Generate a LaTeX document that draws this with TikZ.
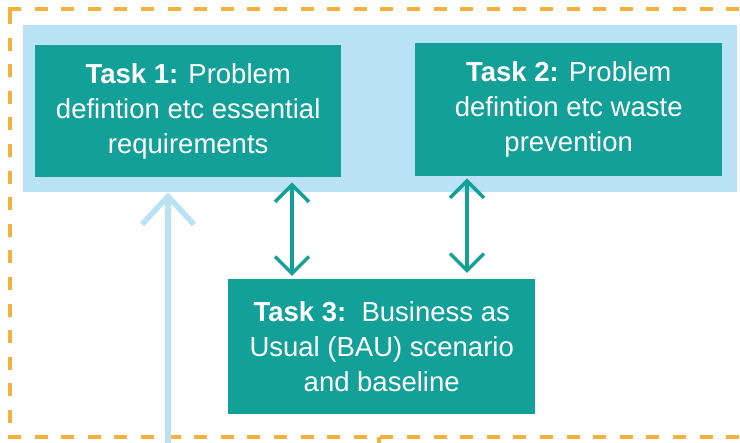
\documentclass[tikz,border=0pt]{standalone}
\usepackage{fontspec}
\setmainfont{Liberation Sans}
\usetikzlibrary{arrows.meta}
\definecolor{tealbox}{HTML}{12A099}
\definecolor{lightband}{HTML}{BAE2F5}
\definecolor{orangedash}{HTML}{F6B03C}
\begin{document}
\begin{tikzpicture}[x=1pt,y=-1pt,
  taskbox/.style={fill=tealbox, text=white, inner sep=0pt, align=center,
    anchor=north west, font=\fontsize{27.5}{35}\selectfont},
  frameline/.style={orangedash, line width=4pt, dash pattern=on 13pt off 13.6pt},
  tealarrow/.style={tealbox, line width=3.5pt,
    arrows={Straight Barb[length=17pt,width=34pt]-Straight Barb[length=17pt,width=34pt]}},
  bluearrow/.style={lightband, line width=5.5pt,
    -{Straight Barb[length=28pt,width=52pt]}}
]
\useasboundingbox (0,0) rectangle (740,443);
% frame
\coordinate (ftl) at (10,9);
\coordinate (fbl) at (10,437);
\coordinate (ftr) at (760,9);
\coordinate (fbr) at (760,437);
\coordinate (tick) at (379,437);
\draw[frameline] ([xshift=-2pt]ftl) -- (ftr);
\draw[frameline] ([yshift=-2pt]ftl) -- (fbl);
\draw[frameline] ([xshift=-2pt]fbl) -- (fbr);
\draw[orangedash, line width=4pt] (tick) -- ++(0,8);
% band
\node[fill=lightband, inner sep=0pt, anchor=north west, minimum width=714pt, minimum height=167pt] (band) at (23,25) {};
% tasks
\node[taskbox, minimum width=306pt, minimum height=132pt] (t1) at (35,45)
  {\textbf{Task 1:} Problem\\defintion etc essential\\requirements};
\node[taskbox, minimum width=307pt, minimum height=133pt] (t2) at (415,43)
  {\textbf{Task 2:} Problem\\defintion etc waste\\prevention};
\node[taskbox, minimum width=307pt, minimum height=135pt] (t3) at (228,279)
  {\textbf{Task 3:}\ \ Business as\\Usual (BAU) scenario\\and baseline};
% arrows
\coordinate (ax1) at (292,0);
\coordinate (ax2) at (467,0);
\coordinate (bx) at (168,446);
\draw[tealarrow, shorten <=5pt, shorten >=3pt] (t1.south -| ax1) -- (t3.north -| ax1);
\draw[tealarrow, shorten <=2pt, shorten >=6pt] (t2.south -| ax2) -- (t3.north -| ax2);
\draw[bluearrow] (bx) -- (band.south -| bx);
\end{tikzpicture}
\end{document}
